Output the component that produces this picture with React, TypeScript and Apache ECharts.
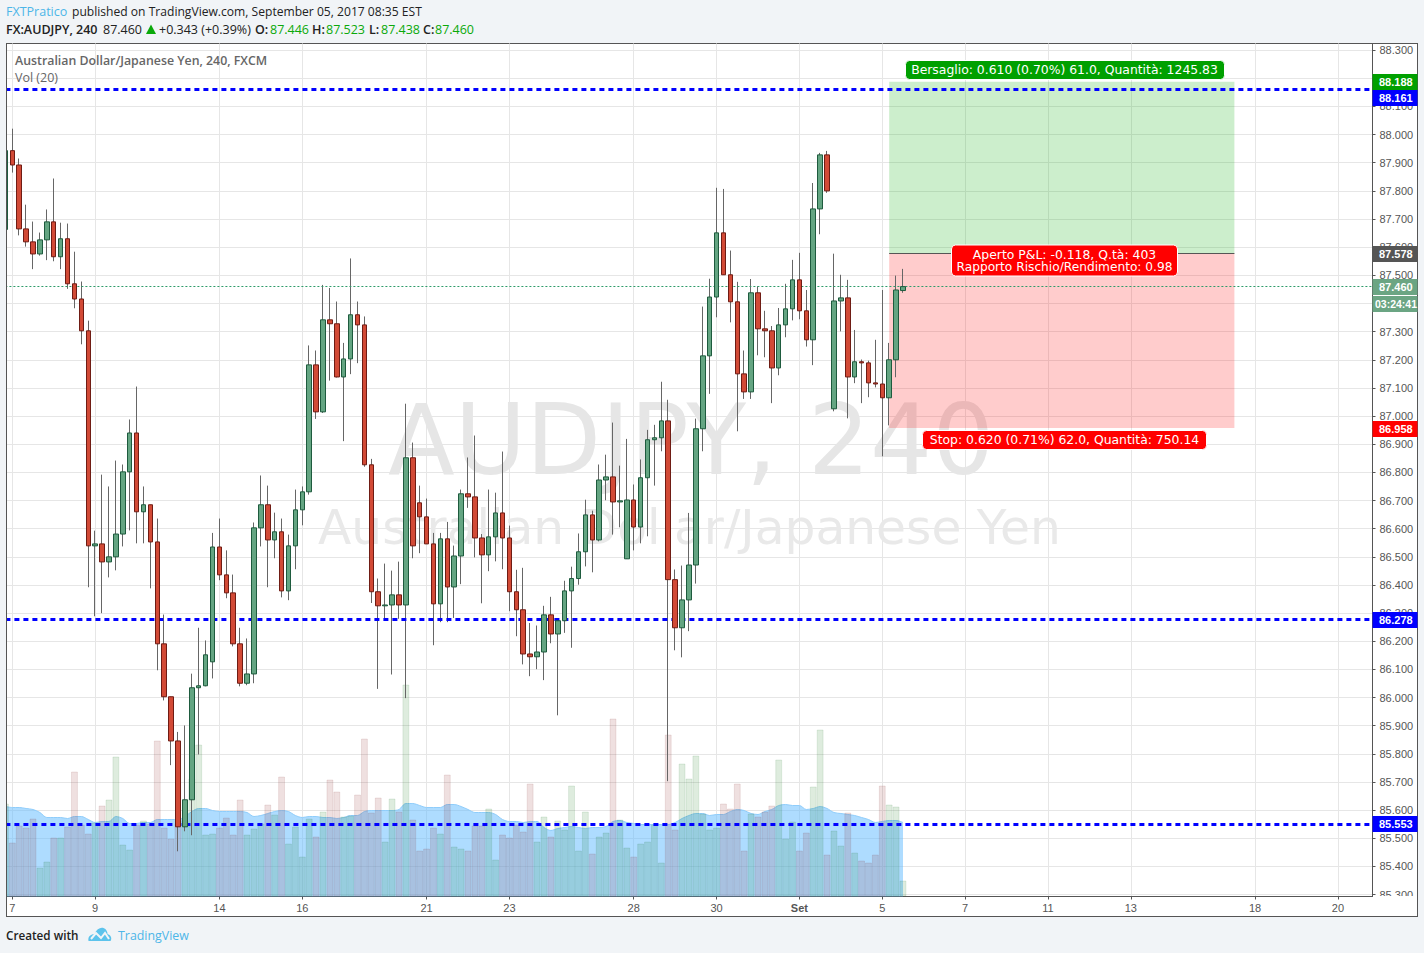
import React, { useEffect, useRef } from "react";
import * as echarts from "echarts";

const opens = [87.663,87.943,87.892,87.665,87.619,87.576,87.626,87.690,87.566,87.630,87.470,87.416,87.303,86.539,86.546,86.482,86.500,86.581,86.802,86.940,86.660,86.685,86.553,86.191,86.003,85.846,85.541,85.637,86.035,86.042,86.127,86.535,86.436,86.372,86.191,86.051,86.084,86.603,86.685,86.560,86.589,86.379,86.539,86.667,86.731,87.182,87.015,87.342,87.328,87.139,87.203,87.360,87.324,86.827,86.376,86.326,86.329,86.365,86.329,86.852,86.692,86.642,86.546,86.333,86.564,86.393,86.503,86.724,86.713,86.567,86.507,86.571,86.656,86.567,86.376,86.312,86.155,86.145,86.162,86.294,86.226,86.273,86.379,86.423,86.518,86.649,86.560,86.773,86.784,86.695,86.493,86.702,86.606,86.781,86.916,86.923,86.983,86.419,86.248,86.347,86.471,86.955,87.214,87.423,87.651,87.502,87.406,87.150,87.086,87.438,87.310,87.303,87.171,87.324,87.381,87.484,87.374,87.271,87.736,87.928,87.026,87.409,87.420,87.139,87.193,87.189,87.118,87.114,87.065,87.200,87.446];
const closes = [87.943,87.892,87.665,87.619,87.576,87.626,87.690,87.566,87.630,87.470,87.416,87.303,86.539,86.546,86.482,86.500,86.581,86.802,86.940,86.660,86.685,86.553,86.191,86.003,85.846,85.541,85.637,86.035,86.042,86.152,86.535,86.436,86.372,86.191,86.051,86.084,86.603,86.685,86.560,86.589,86.379,86.539,86.667,86.731,87.182,87.015,87.342,87.328,87.139,87.203,87.360,87.324,86.827,86.376,86.326,86.329,86.365,86.329,86.852,86.539,86.642,86.546,86.333,86.564,86.393,86.503,86.724,86.713,86.567,86.507,86.571,86.656,86.567,86.376,86.312,86.155,86.145,86.162,86.294,86.226,86.273,86.379,86.423,86.518,86.649,86.560,86.773,86.784,86.695,86.699,86.702,86.606,86.781,86.916,86.923,86.983,86.419,86.248,86.347,86.471,86.955,87.214,87.423,87.651,87.502,87.406,87.150,87.086,87.438,87.310,87.303,87.171,87.324,87.381,87.484,87.374,87.271,87.736,87.928,87.800,87.409,87.420,87.139,87.193,87.189,87.118,87.114,87.065,87.200,87.448,87.460];
const lows = [87.663,87.865,87.642,87.602,87.522,87.570,87.554,87.550,87.522,87.452,87.383,87.255,86.392,86.289,86.300,86.427,86.452,86.537,86.594,86.548,86.548,86.388,86.097,85.990,85.760,85.454,85.525,85.511,85.798,86.040,86.068,86.417,86.353,86.182,86.040,86.044,86.051,86.537,86.392,86.495,86.356,86.346,86.456,86.612,86.721,86.990,87.011,87.126,87.137,86.911,87.149,87.188,86.820,86.336,86.031,86.277,86.082,86.280,85.998,86.495,86.513,86.546,86.186,86.268,86.268,86.283,86.403,86.674,86.498,86.335,86.449,86.484,86.456,86.307,86.218,86.118,86.076,86.101,86.062,86.193,85.937,86.230,86.177,86.401,86.466,86.445,86.555,86.701,86.579,86.605,86.493,86.523,86.548,86.573,86.753,86.875,85.703,86.168,86.143,86.236,86.405,86.875,87.079,87.351,87.502,87.333,86.946,87.061,87.061,87.216,87.209,87.046,87.145,87.280,87.340,87.344,87.247,87.181,87.646,87.793,87.017,87.301,86.992,87.117,87.046,87.067,87.102,86.857,86.967,87.138,87.438];
const highs = [87.943,88.021,87.915,87.751,87.691,87.652,87.734,87.844,87.687,87.684,87.584,87.478,87.339,86.593,86.792,86.750,86.842,86.828,86.988,87.105,86.750,86.685,86.636,86.295,86.003,85.878,85.901,86.085,86.248,86.203,86.585,86.636,86.523,86.437,86.248,86.210,86.622,86.789,86.753,86.657,86.636,86.579,86.739,86.750,87.251,87.233,87.466,87.455,87.407,87.260,87.560,87.407,87.354,86.848,86.423,86.476,86.451,86.483,87.044,86.906,86.753,86.707,86.585,86.585,86.624,86.540,86.739,86.853,86.931,86.581,86.739,86.728,86.874,86.611,86.454,86.461,86.265,86.256,86.326,86.358,86.277,86.415,86.465,86.583,86.703,86.664,86.828,86.863,86.977,86.824,86.919,86.757,86.846,86.951,86.969,87.122,87.058,86.455,86.469,86.656,86.991,87.389,87.488,87.811,87.807,87.588,87.477,87.233,87.487,87.461,87.374,87.320,87.384,87.470,87.555,87.580,87.448,87.828,87.935,87.942,87.577,87.502,87.484,87.306,87.201,87.197,87.271,87.448,87.260,87.499,87.523];
// volume, in hundreds
const volumes = [93,54,71,69,78,29,35,59,59,70,125,72,63,74,91,97,140,52,47,72,76,73,156,69,58,73,76,118,152,62,63,69,79,62,97,62,68,73,92,82,120,53,70,40,78,60,85,117,105,80,81,102,158,84,99,55,98,85,212,77,46,48,69,63,122,50,48,46,71,71,88,37,62,59,72,65,113,55,80,60,76,67,111,46,85,43,60,64,178,77,49,40,53,55,72,34,162,67,133,118,141,83,67,69,93,88,113,46,83,80,85,91,137,58,75,46,64,110,167,42,66,51,84,44,36,34,42,111,92,90,16];
const volumeMa = [90,89,89,88,87,84,79,79,79,78,80,80,77,74,75,75,80,78,73,73,74,74,77,77,77,77,80,85,88,88,86,85,85,85,85,84,80,81,83,85,86,85,81,79,80,80,79,79,78,79,81,81,85,86,86,86,86,87,93,93,91,89,89,89,92,92,90,87,84,84,84,82,77,75,75,74,75,75,69,66,68,69,70,69,68,69,69,70,75,76,74,73,72,72,72,72,72,74,78,81,83,83,81,82,82,85,87,86,83,82,85,87,91,92,91,91,87,88,90,88,84,83,82,81,79,77,74,75,76,76,74];

const barCount = 199;
const categories = Array.from({ length: barCount }, (_, k) => String(k));
const tickBars = [1, 13, 31, 43, 61, 73, 91, 103, 115, 127, 139, 151, 163, 181, 193];
const tickLabels = ["7", "9", "14", "16", "21", "23", "28", "30", "{b|Set}", "5", "7", "11", "13", "18", "20"];
const priceTicks = [85.3,85.4,85.5,85.6,85.7,85.8,85.9,86.0,86.1,86.2,86.3,86.4,86.5,86.6,86.7,86.8,86.9,87.0,87.1,87.2,87.3,87.4,87.5,87.6,87.7,87.8,87.9,88.0,88.1,88.2,88.3];
const hLevels = [88.161, 86.278, 85.553];
const lastPrice = 87.46;
const positionEntry = 87.578;
const positionTarget = 88.188;
const positionStop = 86.958;
const positionFrom = 128;
const positionTo = 178;

const ARIAL = '"Liberation Sans", Arial, sans-serif';
const VERD = '"DejaVu Sans", Verdana, sans-serif';
const HEAD = '"Open Sans", sans-serif';
const PAGE = "#f1f4f7";

echarts.graphic.registerShape(
  "tvcloud",
  echarts.graphic.extendPath("M0 14 C-1 9 3 7 6 7 C8 2 12 0 15 1 C18 2 19 5 19 7 C22 8 24 11 22 14 Z", {})
);

const txt = (text: string, x: number, y: number, fill: string, font: string, z = 100, extra: any = {}) => ({
  type: "text", z, silent: true,
  style: { text, x, y, fill, font, textVerticalAlign: "middle", textBaseline: "middle", ...extra },
});
const rect = (x: number, y: number, width: number, height: number, fill: string, z = 100, r = 0, stroke?: string) => ({
  type: "rect", z, silent: true, shape: { x, y, width, height, r },
  style: stroke ? { fill, stroke, lineWidth: 1 } : { fill },
});
const tag = (text: string, yc: number, fill: string, x = 1379, size = 11) => [
  rect(1372.5, yc - 8, 45, 16, fill, 101),
  txt(text, x, yc, "#fff", `bold ${size}px ${ARIAL}`, 102),
];

export default function App() {
  const ref = useRef<HTMLDivElement>(null);
  useEffect(() => {
    document.body.style.margin = "0";
    const chart = echarts.init(ref.current!, undefined, { renderer: "svg" });
    const wickData = opens.map((o, i) => [o, closes[i], lows[i], highs[i]]);
    const bodyData = opens.map((o, i) => [o, closes[i], Math.min(o, closes[i]), Math.max(o, closes[i])]);
    const volData = volumes.map((v, i) => ({
      value: v,
      itemStyle: closes[i] >= opens[i]
        ? { color: "rgba(0,109,0,0.13)", borderColor: "rgba(0,100,20,0.1)", borderWidth: 1 }
        : { color: "rgba(132,16,16,0.13)", borderColor: "rgba(120,20,20,0.1)", borderWidth: 1 },
    }));
    chart.setOption({
      animation: false,
      backgroundColor: "transparent",
      grid: { left: 5.4, top: 43.5, width: 1367.1, height: 853, containLabel: false },
      xAxis: {
        type: "category", data: categories, boundaryGap: false,
        axisLine: { lineStyle: { color: "#555" } },
        axisTick: { show: true, length: 3, interval: (i: number) => tickBars.includes(i), lineStyle: { color: "#555" } },
        splitLine: { show: true, interval: (i: number) => tickBars.includes(i), lineStyle: { color: "#e6e6e6" } },
        axisLabel: {
          interval: (i: number) => tickBars.includes(i), margin: 6, color: "#555", fontSize: 11, fontFamily: ARIAL,
          hideOverlap: false, showMinLabel: true, showMaxLabel: true,
          formatter: (v: string) => { const p = tickBars.indexOf(Number(v)); return p >= 0 ? tickLabels[p] : ""; },
          rich: { b: { fontWeight: "bold", color: "#555", fontSize: 11, fontFamily: ARIAL } },
        },
      },
      yAxis: [
        {
          type: "value", position: "right", min: 85.2934, max: 88.3236, scale: true,
          axisLine: { show: true, lineStyle: { color: "#555" } },
          axisTick: { show: true, length: 3, customValues: priceTicks, lineStyle: { color: "#555" } },
          splitLine: { show: true, lineStyle: { color: "#e6e6e6" } },
          axisLabel: {
            customValues: priceTicks, margin: 7, color: "#555", fontSize: 11, fontFamily: ARIAL,
            formatter: (v: number) => v.toFixed(3),
          },
        },
        { type: "value", min: 0, max: 853, show: false, splitLine: { show: false } },
      ],
      series: [
        {
          type: "line", name: "Vol MA", yAxisIndex: 1, z: 2, data: volumeMa, smooth: 0.3, symbol: "none",
          lineStyle: { color: "#8fcdfb", width: 1 }, areaStyle: { color: "rgba(93,185,255,0.5)", opacity: 1 },
        },
        { type: "bar", name: "Vol", yAxisIndex: 1, z: 3, data: volData, barWidth: 6.9, barGap: "0%" },
        {
          type: "candlestick", name: "wicks", z: 4, data: wickData, barWidth: 1,
          itemStyle: { color: "#666", color0: "#666", borderColor: "#666", borderColor0: "#666", borderColorDoji: "#666", borderWidth: 1 },
        },
        {
          type: "candlestick", name: "AUDJPY", z: 5, data: bodyData, barWidth: 5,
          itemStyle: { color: "#64a582", color0: "#d24a36", borderColor: "#1e5b3e", borderColor0: "#6f1c14", borderColorDoji: "#1e5b3e", borderWidth: 1 },
        },
        {
          type: "line", name: "position", z: 6, data: [], silent: true,
          markArea: {
            silent: true,
            data: [
              [{ coord: [positionFrom, positionTarget], itemStyle: { color: "rgba(0,170,0,0.2)" } }, { coord: [positionTo, positionEntry] }],
              [{ coord: [positionFrom, positionEntry], itemStyle: { color: "rgba(255,0,0,0.2)" } }, { coord: [positionTo, positionStop] }],
            ],
          },
          markLine: {
            silent: true, symbol: "none", label: { show: false },
            data: [
              [{ coord: [positionFrom, positionEntry], lineStyle: { color: "#555", width: 1, type: "solid" } }, { coord: [positionTo, positionEntry] }],
              { yAxis: lastPrice, lineStyle: { color: "#2e9b6a", width: 1, type: [2, 2] } },
              ...hLevels.map((v) => ({ yAxis: v, lineStyle: { color: "#0000ff", width: 3, type: [5, 4] } })),
            ],
          },
        },
      ],
      graphic: {
        elements: [
          // watermark
          txt("AUDJPY, 240", 388, 440, "#e6e6e6", `97.5px ${VERD}`, 1),
          txt("Australian Dollar/Japanese Yen", 318, 527, "#e9e9e9", `48.7px ${VERD}`, 1),
          // pane legend
          txt("Australian Dollar/Japanese Yen, 240, FXCM", 15, 60.5, "#666", `600 12.35px ${HEAD}`),
          txt("Vol (20)", 15, 77.5, "#666", `12.5px ${HEAD}`),
          // page header
          txt("FXTPratico", 6, 11.5, "#4db6e8", `12.5px ${HEAD}`),
          txt("published on TradingView.com, September 05, 2017 08:35 EST", 72, 11.5, "#222", `12.1px ${HEAD}`),
          txt("FX:AUDJPY, 240", 6, 29.5, "#222", `600 12.5px ${HEAD}`),
          txt("87.460", 103, 29.5, "#222", `12.5px ${HEAD}`),
          { type: "polygon", z: 100, silent: true, shape: { points: [[146, 34], [156, 34], [151, 24.5]] }, style: { fill: "#0aa90a" } },
          txt("+0.343 (+0.39%)", 159, 29.5, "#222", `12.5px ${HEAD}`),
          txt("O:", 255, 29.5, "#222", `600 12.5px ${HEAD}`),
          txt("87.446", 270, 29.5, "#0aa90a", `12.5px ${HEAD}`),
          txt("H:", 312, 29.5, "#222", `600 12.5px ${HEAD}`),
          txt("87.523", 326, 29.5, "#0aa90a", `12.5px ${HEAD}`),
          txt("L:", 369, 29.5, "#222", `600 12.5px ${HEAD}`),
          txt("87.438", 381, 29.5, "#0aa90a", `12.5px ${HEAD}`),
          txt("C:", 423, 29.5, "#222", `600 12.5px ${HEAD}`),
          txt("87.460", 435, 29.5, "#0aa90a", `12.5px ${HEAD}`),
          // footer
          txt("Created with", 6, 935, "#222", `600 11.7px ${HEAD}`),
          { type: "tvcloud", z: 100, silent: true, x: 88.5, y: 927, style: { fill: "#5cc3ec" } },
          { type: "polyline", z: 101, silent: true, shape: { points: [[91, 939], [96, 933], [101, 938], [105, 933], [109, 939]] }, style: { stroke: PAGE, lineWidth: 2, fill: "none" } },
          txt("TradingView", 118, 935, "#4db6e8", `12.4px ${HEAD}`),
          // frame patches
          rect(0, 40, 6, 880, PAGE),
          rect(6, 43, 1, 874, "#555"),
          rect(1376, 896, 40, 20, "#fff"),
          // position labels
          rect(905.5, 60.5, 319, 19, "#00a000", 100, 4, "#ffffff"),
          txt("Bersaglio: 0.610 (0.70%) 61.0, Quantità: 1245.83", 1064.5, 69.5, "#fff", `12.4px ${VERD}`, 101, { textAlign: "center" }),
          rect(951.5, 245, 226, 31, "#ff0000", 100, 4, "#ffffff"),
          txt("Aperto P&L: -0.118, Q.tà: 403", 1064.5, 254.5, "#fff", `12.4px ${VERD}`, 101, { textAlign: "center" }),
          txt("Rapporto Rischio/Rendimento: 0.98", 1064.5, 267, "#fff", `12.2px ${VERD}`, 101, { textAlign: "center" }),
          rect(922.5, 430.5, 284, 19, "#ff0000", 100, 4, "#ffffff"),
          txt("Stop: 0.620 (0.71%) 62.0, Quantità: 750.14", 1064.5, 439.5, "#fff", `12.4px ${VERD}`, 101, { textAlign: "center" }),
          // price tags
          ...tag("88.188", 82, "#00a000"),
          ...tag("88.161", 98, "#0000ff"),
          ...tag("87.578", 254, "#555555"),
          ...tag("87.460", 287, "#6ba583"),
          ...tag("03:24:41", 304, "#6ba583", 1375, 10.5),
          ...tag("86.958", 429, "#ff0000"),
          ...tag("86.278", 620, "#0000ff"),
          ...tag("85.553", 824, "#0000ff"),
        ],
      },
    });
    return () => chart.dispose();
  }, []);
  return (
    <div style={{ position: "relative", width: 1424, height: 953, background: PAGE, overflow: "hidden" }}>
      <div style={{ position: "absolute", left: 6, top: 43, width: 1412, height: 874, boxSizing: "border-box", border: "1px solid #555", background: "#fff" }} />
      <div ref={ref} style={{ position: "absolute", left: 0, top: 0, width: 1424, height: 953 }} />
    </div>
  );
}
